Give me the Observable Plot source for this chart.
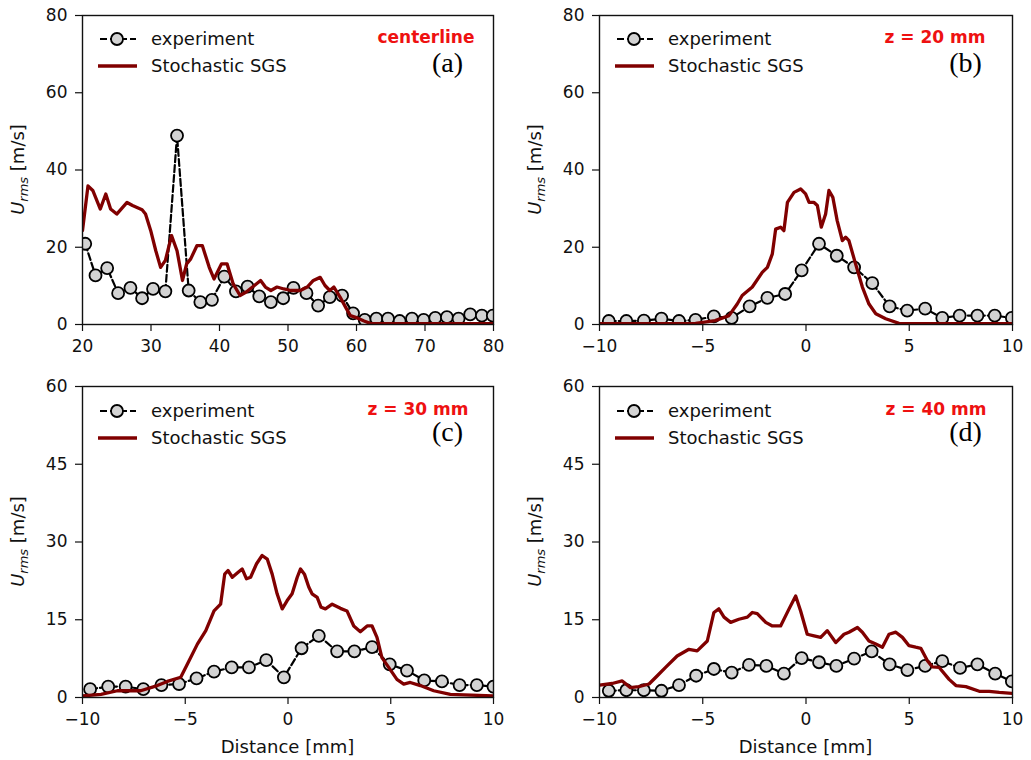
<!DOCTYPE html>
<html><head><meta charset="utf-8">
<script src="https://cdn.jsdelivr.net/npm/d3@7"></script>
<script src="https://cdn.jsdelivr.net/npm/@observablehq/plot@0.6"></script>
<style>
body{margin:0;background:#fff;}
#wrap{position:relative;width:1031px;height:760px;background:#fff;overflow:hidden;}
.panel{position:absolute;}
</style></head><body><div id="wrap"></div>
<script>
// ---------- (a) centerline ----------
const centerlineExpX = [20.4,21.9,23.6,25.2,27.0,28.7,30.3,32.1,33.8,35.5,37.2,38.9,40.7,42.4,44.1,45.8,47.5,49.3,50.8,52.7,54.4,56.1,57.9,59.5,61.2,62.9,64.6,66.3,68.1,69.8,71.5,73.2,74.9,76.6,78.3,79.9];
const centerlineExpY = [20.9,12.7,14.6,8.1,9.5,6.8,9.2,8.6,48.9,8.8,5.8,6.4,12.4,8.6,9.8,7.3,5.8,6.8,9.5,8.1,4.9,7.1,7.5,2.9,1.2,1.5,1.5,0.9,1.5,1.2,1.7,1.9,1.5,2.6,2.3,2.3];
const centerlineSgsX = [20,20.8,21.5,22.6,23.4,24.1,25.0,26.5,27.3,28.7,29.2,29.96,30.7,31.4,32.1,33.0,33.8,34.6,35.2,35.8,36.7,37.5,38.5,39.2,40.3,41.1,42.0,43.0,43.9,45.1,46.0,46.7,47.5,48.4,49.4,50.4,51.8,52.8,53.7,54.7,55.4,56.1,56.7,57.6,58.4,59.1,60.1,61.1,62.0,66.6,80];
const centerlineSgsY = [24.3,35.9,34.7,29.9,33.8,29.9,28.6,31.6,30.8,29.7,28.6,24.3,19.1,14.8,16.6,23.0,19.1,11.4,15.7,17.0,20.4,20.4,14.8,11.8,15.7,15.7,10.5,7.5,8.4,10.1,11.4,9.7,8.8,9.7,9.2,8.8,8.8,9.7,11.4,12.2,10.1,8.8,9.7,7.1,4.5,2.3,1.7,0.9,0.3,0.2,0.2];

// ---------- (b) z = 20 mm ----------
const z20ExpX = [-9.55,-8.7,-7.85,-7.0,-6.15,-5.35,-4.46,-3.6,-2.73,-1.87,-1.01,-0.21,0.63,1.49,2.33,3.21,4.05,4.9,5.77,6.6,7.44,8.3,9.14,9.97];
const z20ExpY = [0.9,0.9,1.0,1.5,0.9,1.2,2.1,1.7,4.7,6.9,7.9,14.0,20.9,17.8,14.8,10.7,4.7,3.6,4.1,1.7,2.3,2.3,2.3,1.7];
const z20SgsX = [-10,-5.35,-4.4,-3.73,-3.33,-3.09,-2.6,-2.12,-1.87,-1.63,-1.47,-1.23,-1.07,-0.9,-0.58,-0.26,-0.02,0.15,0.39,0.55,0.74,0.95,1.11,1.3,1.51,1.76,1.92,2.08,2.4,2.73,3.05,3.38,3.86,4.5,5.3,10];
const z20SgsY = [0.2,0.3,1.0,2.3,5.3,7.5,9.7,13.5,14.8,18.3,24.7,25.2,24.3,31.6,34.2,35.1,33.8,31.6,31.6,30.8,25.2,28.6,34.7,32.9,26.9,21.7,22.6,21.7,15.7,9.7,5.3,2.8,1.5,0.3,0.2,0.2];

// ---------- (c) z = 30 mm ----------
const z30ExpX = [-9.63,-8.75,-7.9,-7.04,-6.16,-5.3,-4.45,-3.6,-2.74,-1.9,-1.06,-0.2,0.66,1.5,2.39,3.23,4.09,4.95,5.79,6.63,7.49,8.35,9.19,10.0];
const z30ExpY = [1.6,2.1,2.1,1.6,2.4,2.6,3.7,5.0,5.8,5.8,7.2,3.9,9.5,11.9,8.9,8.9,9.7,6.4,5.2,3.3,3.1,2.4,2.4,2.1];
const z30SgsX = [-10,-9.1,-8.3,-7.17,-6.36,-5.87,-5.22,-4.9,-4.41,-4.0,-3.6,-3.28,-3.08,-2.92,-2.71,-2.44,-2.23,-2.02,-1.82,-1.53,-1.26,-1.01,-0.77,-0.53,-0.28,-0.04,0.2,0.45,0.61,0.8,1.01,1.17,1.42,1.61,1.82,2.15,2.55,2.87,3.2,3.52,3.85,4.09,4.33,4.57,4.9,5.3,5.63,5.95,6.44,7.09,7.9,10];
const z30SgsY = [0.3,0.6,1.3,1.3,2.3,3.1,3.9,6.4,10.3,12.9,16.7,18.0,23.8,24.5,23.2,24.1,24.8,22.9,23.2,25.8,27.4,26.7,23.8,20.0,17.1,18.7,20.0,23.2,24.8,23.8,21.3,20.0,19.3,17.4,17.1,18.0,17.2,16.7,13.8,12.7,13.8,13.8,11.6,7.7,5.8,3.5,2.6,2.9,2.3,1.3,0.6,0.3];

// ---------- (d) z = 40 mm ----------
const z40ExpX = [-9.55,-8.7,-7.85,-7.0,-6.15,-5.32,-4.46,-3.6,-2.76,-1.92,-1.07,-0.21,0.63,1.47,2.33,3.18,4.05,4.91,5.77,6.6,7.46,8.3,9.16,9.97];
const z40ExpY = [1.3,1.4,1.4,1.3,2.4,4.2,5.5,4.8,6.3,6.1,4.6,7.6,6.8,6.1,7.5,8.9,6.4,5.3,6.1,7.0,5.7,6.4,4.6,3.1];
const z40SgsX = [-10,-9.39,-8.9,-8.5,-8.1,-7.6,-7.2,-6.8,-6.24,-5.67,-5.27,-4.78,-4.46,-4.22,-3.97,-3.65,-3.25,-2.84,-2.6,-2.36,-1.95,-1.63,-1.23,-0.82,-0.5,-0.26,0.06,0.39,0.71,1.03,1.44,1.84,2.08,2.49,2.73,3.05,3.38,3.7,4.02,4.35,4.67,4.99,5.31,5.56,5.88,6.12,6.45,6.93,7.26,7.74,8.39,8.87,9.36,10];
const z40SgsY = [2.4,2.7,3.2,1.9,2.1,2.6,4.2,5.8,8.0,9.3,9.0,10.9,16.4,17.1,15.5,14.5,15.1,15.5,16.4,16.2,14.5,13.8,13.8,17.1,19.6,16.7,12.2,11.9,11.6,12.9,10.6,12.2,12.6,13.5,12.6,10.9,10.3,9.7,12.2,12.6,11.6,10.0,9.7,9.5,7.1,5.9,5.8,3.5,2.3,2.1,1.2,1.2,1.0,0.8];

// tick values and labels
const yTicksTop = [0,20,40,60,80];
const yTicksBottom = [0,15,30,45,60];
const xTicksCenterline = [20,30,40,50,60,70,80];
const xTicksRadial = [-10,-5,0,5,10];
const legendLabels = ["experiment", "Stochastic SGS"];
const panelTags = ["centerline", "z = 20 mm", "z = 30 mm", "z = 40 mm"];
const panelLetters = ["(a)", "(b)", "(c)", "(d)"];
const xAxisLabel = "Distance [mm]";

const SGS_COLOR = "#800000";
const FONT = "DejaVu Sans, sans-serif";
const R = 6;

function panel(o) {
  const exp = o.expX.map((x, i) => ({x, y: o.expY[i]}));
  const sgs = o.sgsX.map((x, i) => ({x, y: o.sgsY[i]}));
  const chart = Plot.plot({
    width: o.width, height: o.height,
    marginLeft: o.ml, marginRight: o.mr, marginTop: o.mt, marginBottom: o.mb,
    style: {fontFamily: FONT, fontSize: "17px", color: "#111", background: "transparent", overflow: "visible"},
    x: {domain: o.xDomain, label: null},
    y: {domain: o.yDomain, label: null},
    marks: [
      Plot.axisX({ticks: o.xTicks, tickSize: 7, tickPadding: 8, label: null, tickFormat: d3.format("d"), strokeWidth: 1.2}),
      Plot.axisY({ticks: o.yTicks, tickSize: 7, tickPadding: 8, label: null, tickFormat: d3.format("d"), strokeWidth: 1.2}),
      Plot.line(exp, {x: "x", y: "y", stroke: "black", strokeWidth: 2.2, strokeDasharray: "7,3", clip: true}),
      Plot.dot(exp, {x: "x", y: "y", r: R, fill: "#d3d3d3", stroke: "black", strokeWidth: 1.8, clip: true}),
      Plot.line(sgs, {x: "x", y: "y", stroke: SGS_COLOR, strokeWidth: 3.3, clip: true}),
      Plot.frame({stroke: "#111", strokeWidth: 1.4}),
      Plot.text([o.tag], {frameAnchor: "top-right", dx: o.tagDx, dy: o.tagDy, text: d => d, fill: "#ee1111", fontWeight: "bold", fontSize: 17, textAnchor: "end", fontFamily: FONT}),
      Plot.text([o.letter], {frameAnchor: "top-right", dx: o.letDx, dy: o.letDy, text: d => d, fill: "#000", fontSize: 28, textAnchor: "middle", fontFamily: "Liberation Serif, Times New Roman, serif"})
    ]
  });
  const svg = d3.select(chart);
  const fx = o.ml, fy = o.mt;
  // legend
  const lg = svg.append("g").attr("font-family", FONT).attr("font-size", 18).attr("fill", "#111").attr("text-anchor", "start");
  const r1 = fy + o.legY1, r2 = fy + o.legY2;
  lg.append("line").attr("x1", fx + 18).attr("x2", fx + 54).attr("y1", r1).attr("y2", r1)
    .attr("stroke", "black").attr("stroke-width", 2.2).attr("stroke-dasharray", "7,3");
  lg.append("circle").attr("cx", fx + 35).attr("cy", r1).attr("r", R)
    .attr("fill", "#d3d3d3").attr("stroke", "black").attr("stroke-width", 1.8);
  lg.append("text").attr("x", fx + 69).attr("y", r1).attr("dy", "0.35em").attr("text-anchor", "start").text(legendLabels[0]);
  lg.append("line").attr("x1", fx + 16).attr("x2", fx + 55).attr("y1", r2).attr("y2", r2)
    .attr("stroke", SGS_COLOR).attr("stroke-width", 3.3);
  lg.append("text").attr("x", fx + 69).attr("y", r2).attr("dy", "0.35em").attr("text-anchor", "start").text(legendLabels[1]);
  // y label
  const cy = o.mt + (o.height - o.mt - o.mb) / 2;
  const yl = svg.append("text").attr("transform", `translate(${o.ylX},${cy}) rotate(-90)`)
    .attr("text-anchor", "middle").attr("font-family", FONT).attr("font-size", 18).attr("fill", "#111");
  yl.append("tspan").attr("font-style", "italic").text("U");
  yl.append("tspan").attr("font-style", "italic").attr("font-size", 13).attr("dy", 4).text("rms");
  yl.append("tspan").attr("dy", -4).text(" [m/s]");
  // x label
  if (o.xlabel) {
    svg.append("text").attr("x", o.ml + (o.width - o.ml - o.mr) / 2).attr("y", o.xlY)
      .attr("text-anchor", "middle").attr("dy", "0.35em").attr("font-family", FONT).attr("font-size", 18)
      .attr("fill", "#111").text(o.xlabel);
  }
  const div = document.createElement("div");
  div.className = "panel";
  div.style.left = o.left + "px";
  div.style.top = o.top + "px";
  div.appendChild(chart);
  document.getElementById("wrap").appendChild(div);
}

panel({left: 0, top: 0, width: 515, height: 370, ml: 82, mr: 22, mt: 15, mb: 46,
  xDomain: [20, 80], xTicks: xTicksCenterline, yDomain: [0, 80], yTicks: yTicksTop,
  expX: centerlineExpX, expY: centerlineExpY, sgsX: centerlineSgsX, sgsY: centerlineSgsY,
  tag: panelTags[0], letter: panelLetters[0], tagDx: -19, tagDy: 15, letDx: -46, letDy: 37,
  legY1: 24, legY2: 51, ylX: 24, xlabel: null});
panel({left: 515, top: 0, width: 516, height: 370, ml: 84, mr: 19, mt: 15, mb: 46,
  xDomain: [-10, 10], xTicks: xTicksRadial, yDomain: [0, 80], yTicks: yTicksTop,
  expX: z20ExpX, expY: z20ExpY, sgsX: z20SgsX, sgsY: z20SgsY,
  tag: panelTags[1], letter: panelLetters[1], tagDx: -27, tagDy: 15, letDx: -47, letDy: 37,
  legY1: 24, legY2: 51, ylX: 26, xlabel: null});
panel({left: 0, top: 370, width: 515, height: 390, ml: 82, mr: 22, mt: 16, mb: 63,
  xDomain: [-10, 10], xTicks: xTicksRadial, yDomain: [0, 60], yTicks: yTicksBottom,
  expX: z30ExpX, expY: z30ExpY, sgsX: z30SgsX, sgsY: z30SgsY,
  tag: panelTags[2], letter: panelLetters[2], tagDx: -25, tagDy: 16, letDx: -46, letDy: 35,
  legY1: 25, legY2: 52, ylX: 24, xlabel: xAxisLabel, xlY: 377});
panel({left: 515, top: 370, width: 516, height: 390, ml: 84, mr: 19, mt: 16, mb: 63,
  xDomain: [-10, 10], xTicks: xTicksRadial, yDomain: [0, 60], yTicks: yTicksBottom,
  expX: z40ExpX, expY: z40ExpY, sgsX: z40SgsX, sgsY: z40SgsY,
  tag: panelTags[3], letter: panelLetters[3], tagDx: -26, tagDy: 16, letDx: -47, letDy: 35,
  legY1: 25, legY2: 52, ylX: 26, xlabel: xAxisLabel, xlY: 377});
</script>
</body></html>
